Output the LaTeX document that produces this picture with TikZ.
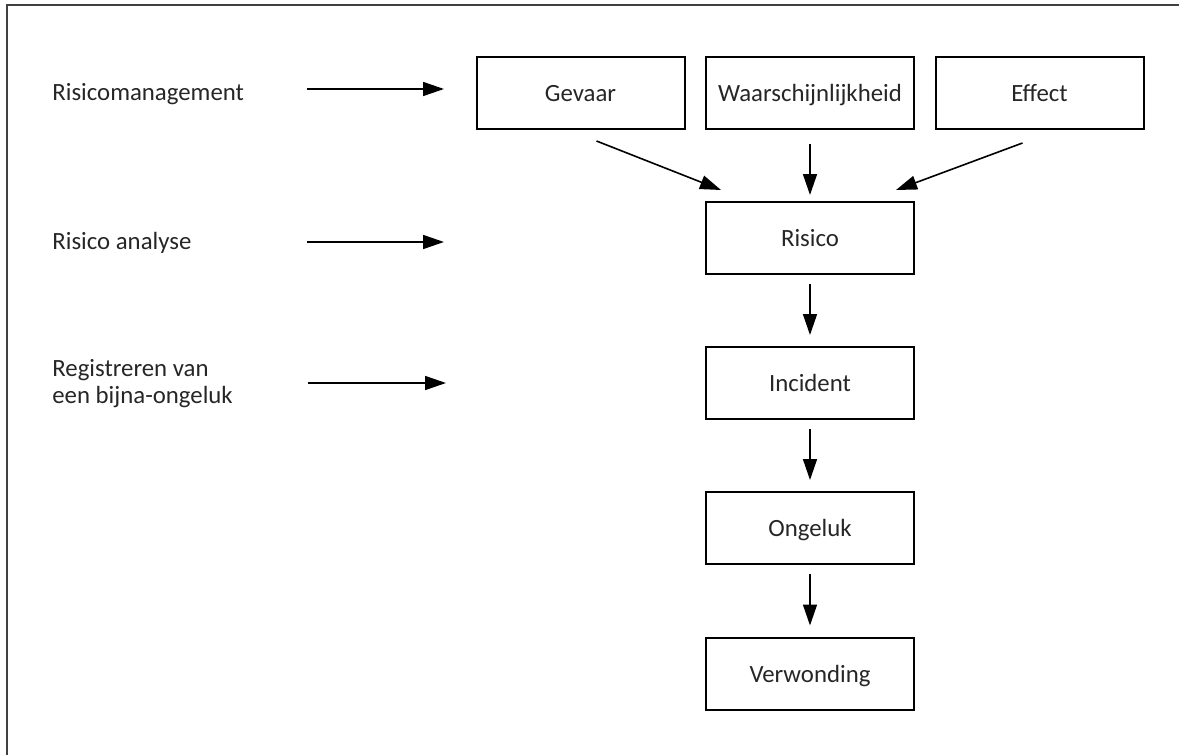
\documentclass[tikz,border=0pt]{standalone}
\usepackage{fontspec}
\setmainfont{Carlito}
\usetikzlibrary{arrows.meta,calc}
\tikzset{
  box/.style={draw=black, line width=1pt, minimum width=104pt, minimum height=36pt, inner sep=0pt, text height=10.3pt, text depth=1.7pt, font=\fontsize{12.4}{13.5}\selectfont, text=black!85},
  lbl/.style={inner sep=0pt, font=\fontsize{12.4}{13.5}\selectfont, text=black!85, align=left},
  arr/.style={line width=0.8pt, -{Triangle[length=10.5pt,width=7pt]}},
  frame/.style={draw=black!75, line width=1pt}
}
\begin{document}
\begin{tikzpicture}[x=0.5pt,y=-0.5pt]
\useasboundingbox (0,0) rectangle (1179,755);
\draw[frame] (7,755) -- (7,5) -- (1179,5);

% boxes
\node[box] (gevaar) at (580.5,93) {Gevaar};
\node[box] (waar) at (810,93) {Waarschijnlijkheid};
\node[box] (effect) at (1039.5,93) {Effect};
\node[box] (risico) at (810,238) {Risico};
\node[box] (incident) at (810,383) {Incident};
\node[box] (ongeluk) at (810,528) {Ongeluk};
\node[box] (verwonding) at (810,673.5) {Verwonding};

% left labels
\node[lbl, anchor=base west] (l1) at (52,100) {Risicomanagement};
\node[lbl, anchor=base west] (l2) at (52,249) {Risico analyse};
\node[lbl, anchor=base west] (l3) at (52,403) {Registreren van\\een bijna-ongeluk};

% left arrows
\coordinate (a1s) at (307,89);  \coordinate (a1e) at (444,89);
\coordinate (a2s) at (307,242); \coordinate (a2e) at (444,242);
\coordinate (a3s) at (308,383); \coordinate (a3e) at (446,383);
\draw[arr] (a1s) -- (a1e);
\draw[arr] (a2s) -- (a2e);
\draw[arr] (a3s) -- (a3e);

% into risico
\draw[arr] ($(gevaar.south)+(16,11)$) -- ($(risico.north west)+(16,-11)$);
\draw[arr] ($(waar.south)+(0,14)$) -- ($(risico.north)+(0,-6)$);
\draw[arr] ($(effect.south)+(-17,13)$) -- ($(risico.north east)+(-19,-11)$);

% chain
\draw[arr, shorten <=4.5pt, shorten >=5.5pt] (risico) -- (incident);
\draw[arr, shorten <=4.5pt, shorten >=5.5pt] (incident) -- (ongeluk);
\draw[arr, shorten <=4.5pt, shorten >=5.5pt] (ongeluk) -- (verwonding);
\end{tikzpicture}
\end{document}
